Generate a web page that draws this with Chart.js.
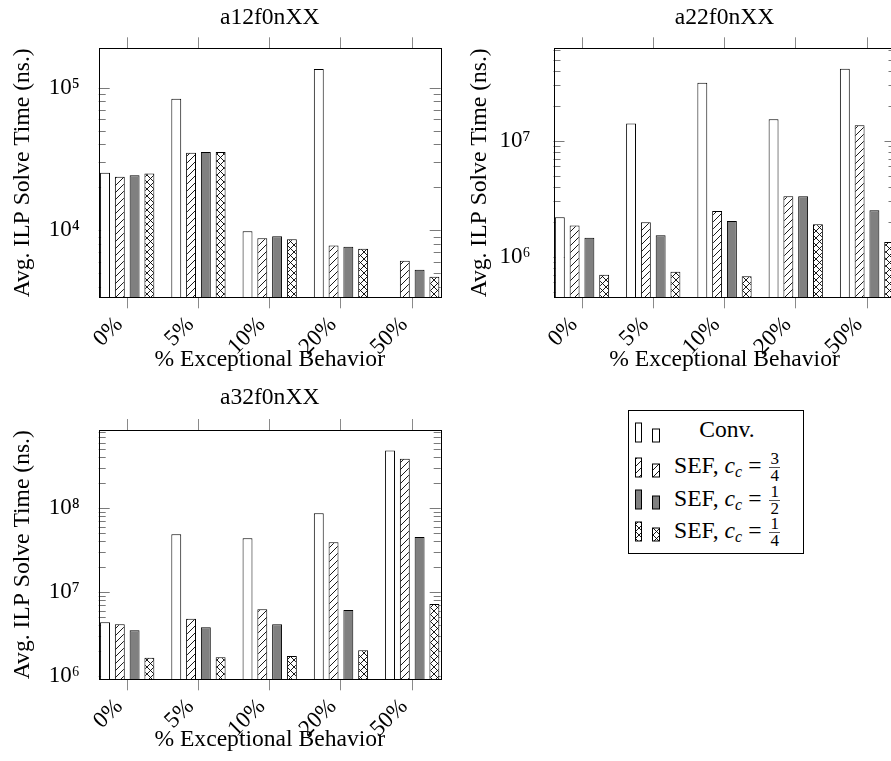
<!DOCTYPE html>
<html>
<head>
<meta charset="utf-8">
<script src="https://cdn.jsdelivr.net/npm/chart.js@4.4.1/dist/chart.umd.min.js"></script>
<style>
html,body{margin:0;padding:0;background:#fff;overflow:hidden;width:891px;height:761px;}
body{position:relative;font-family:"Liberation Serif","Times New Roman",serif;color:#000;}
canvas.plot{position:absolute;}
#legend{position:absolute;left:628px;top:410px;width:176px;height:144px;border:1px solid #000;box-sizing:border-box;background:#fff;}
.row{position:absolute;left:0;width:100%;height:32px;}
.sw{position:absolute;left:3px;}
.txt{position:absolute;left:34px;width:128px;top:0;height:32px;text-align:center;font-size:23.6px;line-height:32px;white-space:nowrap;}
.frac{display:inline-block;vertical-align:middle;font-size:17px;line-height:15px;text-align:center;margin-left:1px;position:relative;top:-1px;}
.frac span{display:block;}
.frac .num{border-bottom:1px solid #555;padding:0 1px 1px 1px;}
.eq{margin:0 7px 0 6px;}
i{font-style:italic;}
sub{font-size:16px;vertical-align:-4px;line-height:0;}
</style>
</head>
<body>
<canvas class="plot" id="c1" width="450" height="380" style="left:0;top:0;width:450px;height:380px"></canvas>
<canvas class="plot" id="c2" width="460" height="380" style="left:445px;top:0;width:460px;height:380px"></canvas>
<canvas class="plot" id="c3" width="450" height="381" style="left:0;top:380px;width:450px;height:381px"></canvas>
<div id="legend"></div>
<script>
// ---------- data ----------
const categories = ['0%', '5%', '10%', '20%', '50%'];
const seriesNames = ['Conv.', 'SEF, c_c = 3/4', 'SEF, c_c = 1/2', 'SEF, c_c = 1/4'];
const legendBase = ['Conv.', 'SEF,', 'SEF,', 'SEF,'];
const ccNumerator = [null, 3, 1, 1];
const ccDenominator = [null, 4, 2, 4];

// a12f0nXX
const a12Conv  = [25300, 83700, 9790, 135000, null];
const a12Sef34 = [23700, 34900, 8740, 7800, 6080];
const a12Sef12 = [24300, 35300, 9040, 7640, 5260];
const a12Sef14 = [25000, 35300, 8610, 7390, 4700];
const a12YRange = [3370, 189000];
const a12YTicks = [1e4, 1e5];

// a22f0nXX
const a22Conv  = [2.19e6, 1.41e7, 3.16e7, 1.53e7, 4.18e7];
const a22Sef34 = [1.86e6, 1.98e6, 2.48e6, 3.32e6, 1.36e7];
const a22Sef12 = [1.46e6, 1.53e6, 2.03e6, 3.32e6, 2.51e6];
const a22Sef14 = [7.0e5, 7.43e5, 6.78e5, 1.91e6, 1.34e6];
const a22YRange = [4.47e5, 6.26e7];
const a22YTicks = [1e6, 1e7];

// a32f0nXX
const a32Conv  = [4.36e6, 4.86e7, 4.35e7, 8.65e7, 4.86e8];
const a32Sef34 = [4.12e6, 4.78e6, 6.22e6, 3.91e7, 3.86e8];
const a32Sef12 = [3.5e6, 3.8e6, 4.12e6, 6.11e6, 4.52e7];
const a32Sef14 = [1.64e6, 1.67e6, 1.73e6, 2.02e6, 7.2e6];
const a32YRange = [9.1e5, 8.5e8];
const a32YTicks = [1e6, 1e7, 1e8];

// ---------- styling ----------
const FONT = '"Liberation Serif", "Times New Roman", serif';
Chart.defaults.font.family = FONT;
Chart.defaults.color = '#000';

const SUP = {'0':'\u2070','1':'\u00b9','2':'\u00b2','3':'\u00b3','4':'\u2074','5':'\u2075','6':'\u2076','7':'\u2077','8':'\u2078','9':'\u2079','-':'\u207b'};
function toSup(n) { return String(n).split('').map(ch => SUP[ch]).join(''); }

function makePattern(ctx, kind) {
  const s = 7;
  const c = document.createElement('canvas');
  c.width = s; c.height = s;
  const g = c.getContext('2d');
  g.fillStyle = '#fff'; g.fillRect(0, 0, s, s);
  g.strokeStyle = '#000'; g.lineWidth = 0.9;
  g.beginPath();
  g.moveTo(0, s); g.lineTo(s, 0);
  g.moveTo(-1, 1); g.lineTo(1, -1);
  g.moveTo(s - 1, s + 1); g.lineTo(s + 1, s - 1);
  if (kind === 'cross') {
    g.moveTo(0, 0); g.lineTo(s, s);
    g.moveTo(-1, s - 1); g.lineTo(1, s + 1);
    g.moveTo(s - 1, -1); g.lineTo(s + 1, 1);
  }
  g.stroke();
  return ctx.createPattern(c, 'repeat');
}

function fillsFor(ctx) {
  return ['#ffffff', makePattern(ctx, 'ne'), '#808080', makePattern(ctx, 'cross')];
}

const pgfTicksPlugin = {
  id: 'pgfTicks',
  beforeDatasetsDraw(chart) {
    const {ctx, chartArea: a} = chart;
    const y = chart.scales.y;
    ctx.save();
    ctx.lineWidth = 1;
    ctx.strokeStyle = '#7a7a7a';
    ctx.beginPath();
    const e0 = Math.floor(Math.log10(y.min)), e1 = Math.ceil(Math.log10(y.max));
    for (let e = e0; e <= e1; e++) {
      for (let m = 1; m <= 9; m++) {
        const v = m * Math.pow(10, e);
        if (v <= y.min || v >= y.max) continue;
        const py = Math.round(y.getPixelForValue(v)) + 0.5;
        const len = m === 1 ? 11 : 7;
        ctx.moveTo(a.left, py); ctx.lineTo(a.left + len, py);
        ctx.moveTo(a.right, py); ctx.lineTo(a.right - len, py);
      }
    }
    ctx.stroke();
    ctx.restore();
  },
  afterDatasetsDraw(chart) {
    const {ctx, chartArea: a} = chart;
    ctx.save();
    ctx.lineWidth = 1;
    ctx.strokeStyle = '#000';
    const l = Math.round(a.left) + 0.5, t = Math.round(a.top) + 0.5;
    ctx.strokeRect(l, t, Math.round(a.right) - Math.round(a.left), Math.round(a.bottom) - Math.round(a.top));
    ctx.restore();
  }
};

function buildChart(id, title, series, yRange, yTicks, box) {
  const ctx = document.getElementById(id).getContext('2d');
  const fills = fillsFor(ctx);
  const xMin = -0.4, xMax = categories.length - 1 + 0.4;
  const setCatTicks = s => { s.ticks = categories.map((c, i) => ({value: i})); };
  const gridTicks = {display: true, offset: false, drawOnChartArea: false, drawTicks: true, tickLength: 11, color: '#8a8a8a', lineWidth: 1};
  return new Chart(ctx, {
    type: 'bar',
    data: {
      datasets: series.map((vals, s) => ({
        label: seriesNames[s],
        data: vals.map((v, i) => ({x: i, y: v})),
        backgroundColor: fills[s],
        borderColor: '#000',
        borderWidth: 1,
        borderSkipped: 'start',
        categoryPercentage: 0.83,
        barPercentage: 0.67,
        xAxisID: 'x',
        yAxisID: 'y'
      }))
    },
    options: {
      responsive: false,
      animation: false,
      events: [],
      layout: {padding: {left: 0, right: box.padRight, top: 0, bottom: 0}},
      plugins: {legend: {display: false}, tooltip: {enabled: false}, title: {display: false}},
      scales: {
        x: {
          type: 'linear', position: 'bottom', min: xMin, max: xMax, bounds: 'data', offset: false,
          afterBuildTicks: setCatTicks,
          afterFit: s => { s.height = box.bottomH; },
          grid: gridTicks,
          border: {display: false},
          ticks: {autoSkip: false, minRotation: 45, maxRotation: 45, padding: 3, labelOffset: -8,
                  font: {size: 23, family: FONT}, color: '#000',
                  callback: v => categories[Math.round(v)]},
          title: {display: true, text: '% Exceptional Behavior', color: '#000',
                  font: {size: 23.6, family: FONT}, padding: {top: 0, bottom: box.xTitlePad}}
        },
        xTop: {
          type: 'linear', position: 'top', min: xMin, max: xMax, bounds: 'data', offset: false,
          afterBuildTicks: setCatTicks,
          afterFit: s => { s.height = box.topH; },
          grid: gridTicks,
          border: {display: false},
          ticks: {display: false},
          title: {display: true, text: title, color: '#000',
                  font: {size: 23.6, family: FONT}, padding: {top: box.titlePad, bottom: 0}}
        },
        y: {
          type: 'logarithmic', position: 'left', min: yRange[0], max: yRange[1], bounds: 'data',
          afterBuildTicks: s => { s.ticks = yTicks.map(v => ({value: v, major: true})); },
          afterFit: s => { s.width = box.leftW; },
          grid: {display: false, drawTicks: false},
          border: {display: false},
          ticks: {padding: box.yTickPad, font: {size: 23, family: FONT}, color: '#000',
                  callback: v => '10' + toSup(Math.round(Math.log10(v)))},
          title: {display: true, text: 'Avg. ILP Solve Time (ns.)', color: '#000',
                  font: {size: 23.6, family: FONT}, padding: {top: box.yTitlePad, bottom: 0}}
        }
      }
    },
    plugins: [pgfTicksPlugin]
  });
}

buildChart('c1', 'a12f0nXX', [a12Conv, a12Sef34, a12Sef12, a12Sef14], a12YRange, a12YTicks,
  {leftW: 98.7, padRight: 9.3, topH: 48.3, bottomH: 82.7, yTickPad: 19, yTitlePad: 9, titlePad: 3.3, xTitlePad: 6});
buildChart('c2', 'a22f0nXX', [a22Conv, a22Sef34, a22Sef12, a22Sef14], a22YRange, a22YTicks,
  {leftW: 108.5, padRight: 9.5, topH: 48.3, bottomH: 82.7, yTickPad: 23, yTitlePad: 21, titlePad: 3.3, xTitlePad: 6});
buildChart('c3', 'a32f0nXX', [a32Conv, a32Sef34, a32Sef12, a32Sef14], a32YRange, a32YTicks,
  {leftW: 98.7, padRight: 9.3, topH: 50, bottomH: 81.7, yTickPad: 19, yTitlePad: 9, titlePad: 3.3, xTitlePad: 7});

// ---------- legend ----------
(function buildLegend() {
  const legend = document.getElementById('legend');
  const rowTops = [2, 38, 71, 103];
  const swatchBottoms = [29, 28, 27, 27];
  seriesNames.forEach((name, s) => {
    const row = document.createElement('div');
    row.className = 'row';
    row.style.top = rowTops[s] + 'px';
    const sw = document.createElement('canvas');
    sw.className = 'sw';
    sw.width = 30; sw.height = 32;
    sw.style.top = '0px';
    const g = sw.getContext('2d');
    const fill = fillsFor(g)[s];
    const b = swatchBottoms[s];
    g.fillStyle = fill; g.strokeStyle = '#000'; g.lineWidth = 1;
    g.fillRect(3.5, b - 19, 6, 19); g.strokeRect(3.5, b - 19, 6, 19);
    g.fillRect(20.5, b - 13, 7, 13); g.strokeRect(20.5, b - 13, 7, 13);
    row.appendChild(sw);
    const txt = document.createElement('div');
    txt.className = 'txt';
    if (ccNumerator[s] === null) {
      txt.textContent = legendBase[s];
    } else {
      txt.innerHTML = legendBase[s] + ' <i>c</i><sub><i>c</i></sub><span class="eq">=</span>' +
        '<span class="frac"><span class="num">' + ccNumerator[s] + '</span><span>' + ccDenominator[s] + '</span></span>';
    }
    row.appendChild(txt);
    legend.appendChild(row);
  });
})();
</script>
</body>
</html>
